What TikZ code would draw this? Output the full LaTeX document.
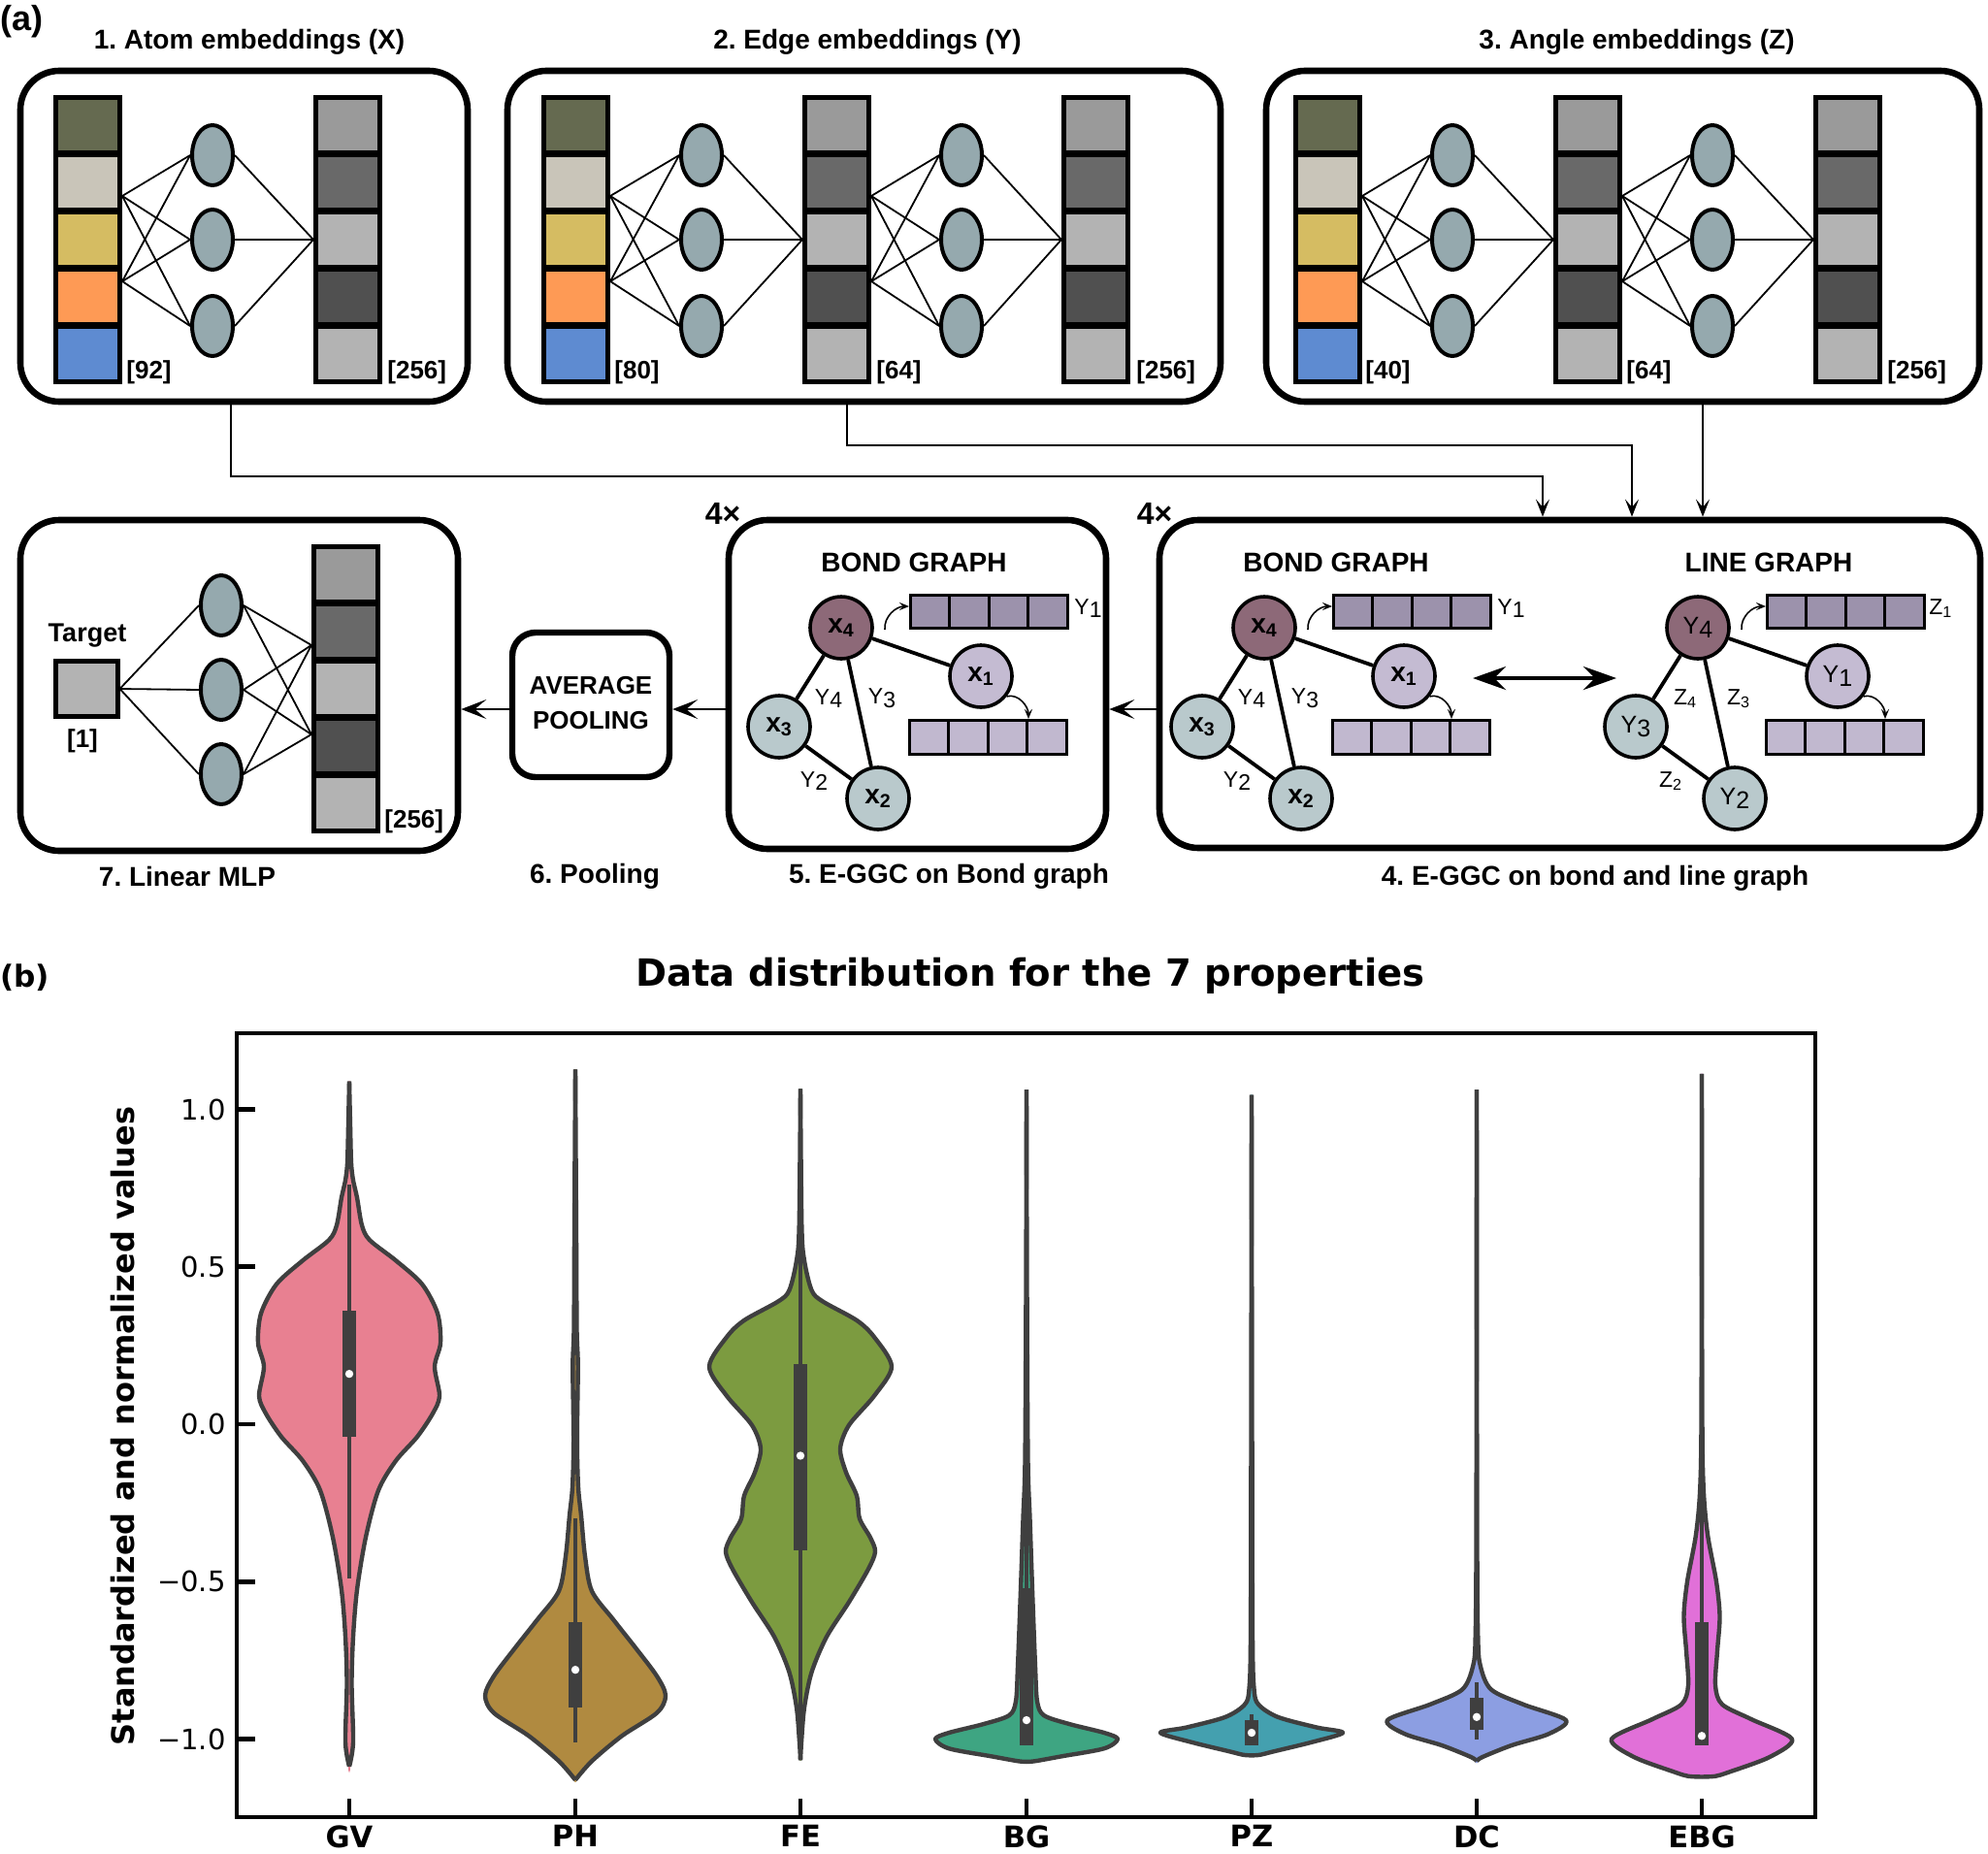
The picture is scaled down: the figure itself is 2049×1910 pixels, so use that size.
\documentclass[tikz,border=0pt]{standalone}
\usepackage{fontspec}
\setmainfont{Liberation Sans}
\newfontfamily\dejavu{DejaVu Sans}
\usetikzlibrary{arrows.meta,shapes.geometric,fit}

\definecolor{cOlive}{HTML}{656A50}
\definecolor{cBeige}{HTML}{C9C5B9}
\definecolor{cYellow}{HTML}{D5BC62}
\definecolor{cOrange}{HTML}{FE9A55}
\definecolor{cBlue}{HTML}{5E8BD1}
\definecolor{gA}{HTML}{9A9A9A}
\definecolor{gB}{HTML}{696969}
\definecolor{gC}{HTML}{B3B3B3}
\definecolor{gD}{HTML}{505050}
\definecolor{cNeuron}{HTML}{95A9AE}
\definecolor{nodeDark}{HTML}{8D6978}
\definecolor{nodeLav}{HTML}{C4BBD2}
\definecolor{nodeGrey}{HTML}{B9C9CC}
\definecolor{barDark}{HTML}{9C92AC}
\definecolor{barLight}{HTML}{C1B8CF}
\definecolor{vGV}{RGB}{232,128,145}
\definecolor{vPH}{RGB}{176,138,64}
\definecolor{vFE}{RGB}{124,155,64}
\definecolor{vBG}{RGB}{62,165,130}
\definecolor{vPZ}{RGB}{68,160,175}
\definecolor{vDC}{RGB}{140,158,226}
\definecolor{vEBG}{RGB}{225,112,216}
\definecolor{statc}{HTML}{3F3F3F}

\newcommand\fsz[1]{\fontsize{#1}{#1}\selectfont}
\newcommand\lsub[2]{#1\raisebox{-0.3ex}{#2}}

% column of 5 cells: x0, y0, name, colours
\newcommand\colbox[8]{%
  \fill[black] (#1,#2) rectangle ++(71,298);
  \foreach \k/\c in {0/#4,1/#5,2/#6,3/#7,4/#8}{%
    \pgfmathsetmacro\yy{#2+5+\k*59}%
    \fill[\c] (#1+5,\yy) rectangle ++(61,52);}%
  \node[fit={(#1,#2)(#1+71,#2+298)}, inner sep=0pt] (#3) {};}

% dense layer: source column right x, ellipse x, target column left x, prefix
\newcommand\nnlayer[4]{%
  \coordinate (#4s1) at (#1,202);
  \coordinate (#4s2) at (#1,290);
  \coordinate (#4t) at (#3,247);
  \foreach \j/\yy in {1/160,2/247,3/336}{%
    \node[neuron] (#4e\j) at (#2,\yy) {};
    \draw[nnline] (#4s1) -- (#4e\j.west);
    \draw[nnline] (#4s2) -- (#4e\j.west);
    \draw[nnline] (#4e\j.east) -- (#4t);}}

% small graph
\newcommand\egraph[9]{%
 \begin{scope}[shift={(#1,647)}]
  \node[gnode, fill=nodeDark] (#2n4) at (0,0) {#3};
  \node[gnode, fill=nodeLav] (#2n1) at (144,50) {#4};
  \node[gnode, fill=nodeGrey] (#2n3) at (-64,102) {#5};
  \node[gnode, fill=nodeGrey] (#2n2) at (38,176) {#6};
  \draw[gedge] (#2n4) -- (#2n1);
  \draw[gedge] (#2n4) -- (#2n3);
  \draw[gedge] (#2n4) -- (#2n2);
  \draw[gedge] (#2n3) -- (#2n2);
  \node[elabel] (#2e43) at (-13,73) {#7};
  \node[elabel] (#2e42) at (42,73) {#8};
  \node[elabel] (#2e32) at (-28,158) {#9};
  \foreach \k in {0,1,2,3}{%
    \draw[featbar, fill=barDark] (71+\k*40.5,-34) rectangle ++(40.5,34);
    \draw[featbar, fill=barLight] (70+\k*40.5,95) rectangle ++(40.5,35);}
  \coordinate (#2ta) at (70,-22);
  \coordinate (#2tb) at (193,94);
  \coordinate (#2sa) at (45,2);
  \draw[curvarr] (#2sa) to[out=95,in=180] (#2ta);
  \draw[curvarr] (#2n1.-38) to[out=15,in=90] (#2tb);
 \end{scope}}

% violin: centre x, colour, right-half points (w,v)
\newcommand\violin[3]{%
 \begin{scope}[shift={(#1,1468)}, yscale=-324.5]
  \filldraw[fill=#2, draw=#2, line width=0.8pt] plot[smooth] coordinates {#3} -- cycle;
  \begin{scope}[xscale=-1]
   \filldraw[fill=#2, draw=#2, line width=0.8pt] plot[smooth] coordinates {#3} -- cycle;
  \end{scope}
  \draw[vedge] plot[smooth] coordinates {#3};
  \begin{scope}[xscale=-1]\draw[vedge] plot[smooth] coordinates {#3};\end{scope}
 \end{scope}}

% box/whisker: cx, wlo, whi, qlo, qhi, median, name
\newcommand\vstats[7]{%
 \begin{scope}[shift={(#1,1468)}, yscale=-324.5]
  \draw[statc, line width=2.4pt] (0,#2) -- (0,#3);
  \fill[statc] (-7,#4) rectangle (7,#5);
  \node[meddot] (#7) at (0,#6) {};
 \end{scope}}

\begin{document}
\frenchspacing
\begin{tikzpicture}[x=0.5pt,y=-0.5pt,
  panel/.style={draw=black, line width=3.3pt, rounded corners=20pt, inner sep=0pt},
  poolbox/.style={draw=black, line width=3.2pt, rounded corners=12pt, inner sep=0pt},
  neuron/.style={ellipse, draw=black, line width=2pt, fill=cNeuron, minimum width=21pt, minimum height=31pt, inner sep=0pt},
  nnline/.style={line width=0.9pt, draw=black},
  flow/.style={line width=1.1pt, -{Stealth[length=9pt,width=7pt,inset=4pt]}},
  hflow/.style={line width=1.1pt, -{Stealth[length=13pt,width=10pt,inset=6pt]}},
  dblarr/.style={line width=2.4pt, {Stealth[length=17pt,width=12pt,inset=6pt]}-{Stealth[length=17pt,width=12pt,inset=6pt]}},
  gnode/.style={circle, draw=black, line width=1.8pt, minimum size=32pt, inner sep=0pt, font=\fsz{14}\bfseries},
  gedge/.style={line width=1.9pt},
  elabel/.style={font=\fsz{11.5}, inner sep=1pt},
  featbar/.style={draw=black, line width=1.5pt},
  curvarr/.style={line width=0.8pt, -{Stealth[length=5pt,width=4pt,inset=2pt]}},
  ttl/.style={font=\fsz{14}\bfseries, inner sep=0pt},
  dimlab/.style={font=\fsz{13}\bfseries, inner sep=0pt, anchor=base west},
  grtitle/.style={font=\fsz{14}\bfseries, inner sep=0pt},
  vedge/.style={draw=statc, line width=2.2pt, line join=round},
  meddot/.style={circle, fill=white, minimum size=4.2pt, inner sep=0pt},
  dvt/.style={font=\dejavu\fsz{14.5}, inner sep=0pt}
]
\useasboundingbox (0,0) rectangle (2049,1910);
\fill[white] (0,0) rectangle (2049,1910);

% ================= (a) =================
\node[anchor=west, inner sep=0pt, font=\fsz{18}\bfseries] (pa) at (0,22) {(a)};

% top panels
\node[panel, fit={(21,73)(482,414)}] (b1) {};
\node[panel, fit={(523,73)(1258,414)}] (b2) {};
\node[panel, fit={(1305,73)(2040,414)}] (b3) {};
\node[ttl] (t1) at (257,43) {1. Atom embeddings (X)};
\node[ttl] (t2) at (894,43) {2. Edge embeddings (Y)};
\node[ttl] (t3) at (1687,43) {3. Angle embeddings (Z)};

% panel 1
\colbox{55}{98}{b1ca}{cOlive}{cBeige}{cYellow}{cOrange}{cBlue}
\colbox{323}{98}{b1cb}{gA}{gB}{gC}{gD}{gC}
\nnlayer{126}{219}{323}{pa1}
\node[dimlab] (d92) at (130,390) {[92]};
\node[dimlab] (d256a) at (399,390) {[256]};

% panel 2
\colbox{558}{98}{b2ca}{cOlive}{cBeige}{cYellow}{cOrange}{cBlue}
\colbox{827}{98}{b2cb}{gA}{gB}{gC}{gD}{gC}
\colbox{1094}{98}{b2cc}{gA}{gB}{gC}{gD}{gC}
\nnlayer{629}{723}{827}{pb1}
\nnlayer{898}{991}{1094}{pb2}
\node[dimlab] (d80) at (633,390) {[80]};
\node[dimlab] (d64a) at (903,390) {[64]};
\node[dimlab] (d256b) at (1171,390) {[256]};

% panel 3
\colbox{1333}{98}{b3ca}{cOlive}{cBeige}{cYellow}{cOrange}{cBlue}
\colbox{1601}{98}{b3cb}{gA}{gB}{gC}{gD}{gC}
\colbox{1869}{98}{b3cc}{gA}{gB}{gC}{gD}{gC}
\nnlayer{1404}{1497}{1601}{pc1}
\nnlayer{1672}{1765}{1869}{pc2}
\node[dimlab] (d40) at (1407,390) {[40]};
\node[dimlab] (d64b) at (1676,390) {[64]};
\node[dimlab] (d256c) at (1945,390) {[256]};

% lower panels
\node[panel, fit={(1195,536)(2041,874)}] (b4) {};
\node[panel, fit={(751,536)(1140,875)}] (b5) {};
\node[panel, fit={(21,536)(472,877)}] (b7) {};
\node[poolbox, fit={(528,652)(690,801)}] (pool) {};
\node[font=\fontsize{13}{18}\selectfont\bfseries, align=center, inner sep=0pt] (pooltxt) at (609,725) {AVERAGE\\POOLING};

\node[font=\fsz{16}\bfseries, inner sep=0pt] (rep5) at (745,529) {4×};
\node[font=\fsz{16}\bfseries, inner sep=0pt] (rep4) at (1190,529) {4×};

% connectors from embeddings
\coordinate (c1) at (238,0);
\coordinate (c2) at (873,0);
\coordinate (c3) at (1755,0);
\coordinate (j1) at (1590,491);
\coordinate (j2) at (1682,459);
\draw[flow] (b1.south -| c1) |- (j1) -- (b4.north -| j1);
\draw[flow] (b2.south -| c2) |- (j2) -- (b4.north -| j2);
\draw[flow] (b3.south -| c3) -- (b4.north -| c3);

% horizontal flow
\coordinate (hy) at (0,731);
\draw[hflow] (b4.west |- hy) -- (b5.east |- hy);
\draw[hflow] (b5.west |- hy) -- (pool.east |- hy);
\draw[hflow] (pool.west |- hy) -- (b7.east |- hy);

% graphs
\node[grtitle] (bg5) at (942,580) {BOND GRAPH};
\egraph{867}{g5}{x\textsubscript{4}}{x\textsubscript{1}}{x\textsubscript{3}}{x\textsubscript{2}}{\lsub{Y}{4}}{\lsub{Y}{3}}{\lsub{Y}{2}}
\node[elabel, anchor=west] (g5lab) at (1105,627) {\lsub{Y}{1}};

\node[grtitle] (bg4) at (1377,580) {BOND GRAPH};
\egraph{1303}{g4}{x\textsubscript{4}}{x\textsubscript{1}}{x\textsubscript{3}}{x\textsubscript{2}}{\lsub{Y}{4}}{\lsub{Y}{3}}{\lsub{Y}{2}}
\node[elabel, anchor=west] (g4lab) at (1541,627) {\lsub{Y}{1}};

\node[grtitle] (lg4) at (1823,580) {LINE GRAPH};
\egraph{1750}{gl}{\mdseries\fsz{12.5}\lsub{Y}{4}}{\mdseries\fsz{12.5}\lsub{Y}{1}}{\mdseries\fsz{12.5}\lsub{Y}{3}}{\mdseries\fsz{12.5}\lsub{Y}{2}}{Z\textsubscript{4}}{Z\textsubscript{3}}{Z\textsubscript{2}}
\node[elabel, anchor=west] (gllab) at (1986,627) {Z\textsubscript{1}};

\coordinate (da1) at (1518,699);
\coordinate (da2) at (1666,699);
\draw[dblarr] (da1) -- (da2);

% linear MLP
\colbox{321}{561}{b7c}{gA}{gB}{gC}{gD}{gC}
\node[draw=black, line width=2.5pt, fill=gC, minimum width=32pt, minimum height=28.5pt, inner sep=0pt] (tgt) at (89,710) {};
\node[font=\fsz{13.5}\bfseries, inner sep=0pt] (tgtlab) at (90,655) {Target};
\node[font=\fsz{13}\bfseries, inner sep=0pt] (tgtdim) at (85,764) {[1]};
\node[dimlab] (d256d) at (396,853) {[256]};
\coordinate (m1) at (321,665);
\coordinate (m2) at (321,757);
\foreach \j/\yy in {1/624,2/711,3/798}{%
  \node[neuron] (me\j) at (228,\yy) {};
  \draw[nnline] (tgt.east) -- (me\j.west);
  \draw[nnline] (me\j.east) -- (m1);
  \draw[nnline] (me\j.east) -- (m2);}

% captions
\node[ttl] (cap7) at (193,903) {7. Linear MLP};
\node[ttl] (cap6) at (613,903) {6. Pooling};
\node[ttl] (cap5) at (978,903) {5. E-GGC on Bond graph};
\node[ttl] (cap4) at (1644,905) {4. E-GGC on bond and line graph};

% ================= (b) =================
\node[anchor=west, inner sep=0pt, font=\dejavu\fsz{15.6}\bfseries] (pb) at (0,1008) {(b)};
\node[font=\dejavu\fsz{19.3}\bfseries, inner sep=0pt] (ptitle) at (1062,1006) {Data distribution for the 7 properties};

\violin{360}{vGV}{(0,1.089) (1,0.95) (2,0.83) (4,0.775) (8,0.72) (13,0.632) (21,0.585) (48,0.52) (75,0.445) (91,0.352) (94,0.258) (88,0.183) (93,0.09) (86,0.034) (70,-0.04) (48,-0.116) (30,-0.21) (17,-0.359) (8,-0.526) (4,-0.675) (2.5,-0.825) (4,-1.01) (0,-1.087)}
\vstats{360}{-0.49}{0.76}{-0.04}{0.36}{0.16}{mGV}

\violin{593}{vPH}{(0,1.127) (1,0.6) (1.5,0.3) (2.7,0.183) (1.8,-0.05) (3,-0.2) (6,-0.29) (10,-0.42) (17,-0.53) (39,-0.62) (62,-0.71) (84,-0.80) (93,-0.862) (84,-0.917) (48,-0.99) (17,-1.07) (0,-1.13)}
\vstats{593}{-1.01}{-0.30}{-0.90}{-0.63}{-0.78}{mPH}

\violin{825}{vFE}{(0,1.065) (1.3,0.632) (4,0.52) (11.6,0.425) (23,0.39) (58,0.33) (76,0.277) (94,0.183) (76,0.09) (50,-0.003) (41,-0.078) (47,-0.153) (58,-0.227) (61,-0.30) (72,-0.36) (77,-0.405) (70,-0.46) (50,-0.565) (27,-0.675) (11.6,-0.787) (4,-0.9) (1,-1.01) (0,-1.067)}
\vstats{825}{-0.98}{0.98}{-0.40}{0.19}{-0.10}{mFE}

\violin{1058}{vBG}{(0,1.063) (0.5,0.43) (1.5,-0.116) (3.5,-0.30) (6,-0.526) (9,-0.77) (11,-0.88) (18,-0.925) (45,-0.953) (80,-0.98) (94,-1.0) (80,-1.03) (36,-1.055) (9,-1.07) (0,-1.072)}
\vstats{1058}{-1.02}{-0.10}{-1.02}{-0.52}{-0.94}{mBG}

\violin{1290}{vPZ}{(0,1.046) (0.5,0) (1,-0.675) (2.5,-0.84) (7,-0.89) (27,-0.93) (67,-0.963) (94,-0.98) (62,-1.01) (22,-1.04) (9,-1.05) (0,-1.052)}
\vstats{1290}{-1.02}{-0.92}{-1.02}{-0.94}{-0.98}{mPZ}

\violin{1522}{vDC}{(0,1.063) (0.4,-0.30) (1.3,-0.675) (4,-0.77) (15,-0.843) (48,-0.89) (92,-0.94) (74,-0.984) (36,-1.02) (6,-1.057) (0,-1.07)}
\vstats{1522}{-1.00}{-0.82}{-0.97}{-0.87}{-0.93}{mDC}

\violin{1754}{vEBG}{(0,1.113) (0.4,0.07) (1.7,-0.20) (6,-0.35) (15,-0.50) (18.5,-0.61) (16,-0.72) (14,-0.83) (21,-0.89) (51,-0.937) (93,-1.0) (70,-1.057) (28,-1.105) (14,-1.118) (0,-1.12)}
\vstats{1754}{-1.02}{-0.20}{-1.02}{-0.63}{-0.99}{mEBG}

% axes
\node[draw=black, line width=1.7pt, fit={(244,1065)(1871,1873)}, inner sep=0pt] (axes) {};
\foreach \v/\t [count=\i] in {1/1.0, 0.5/0.5, 0/0.0, -0.5/−0.5, -1/−1.0}{%
  \draw[line width=2.4pt] (244,{1468-324.5*\v}) -- ++(19,0);
  \node[dvt, anchor=east] (yt\i) at (233,{1468-324.5*\v}) {\t};}
\foreach \x/\t in {360/GV, 593/PH, 825/FE, 1058/BG, 1290/PZ, 1522/DC, 1754/EBG}{%
  \draw[line width=2.4pt] (\x,1873) -- ++(0,-19);
  \node[font=\dejavu\fsz{15.3}\bfseries, inner sep=0pt, anchor=north] (xt\t) at (\x,1881) {\t};}
\node[rotate=90, font=\dejavu\fsz{16}\bfseries, inner sep=0pt] (ylab) at (127,1470) {Standardized and normalized values};

\end{tikzpicture}
\end{document}
